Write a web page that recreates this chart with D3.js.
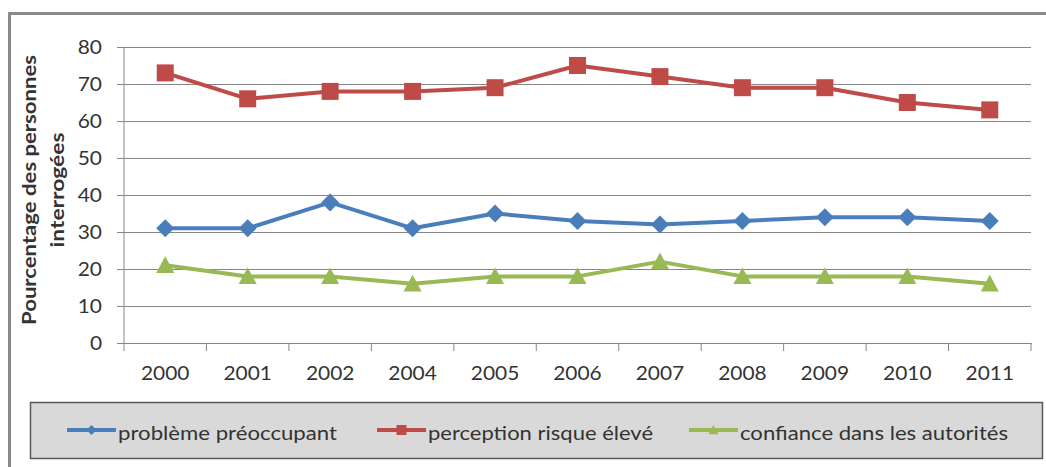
<!DOCTYPE html>
<html>
<head>
<meta charset="utf-8">
<script src="https://cdn.jsdelivr.net/npm/d3@7/dist/d3.min.js"></script>
<style>
  html, body { margin: 0; padding: 0; background: #fff; }
  svg { display: block; }
  text { font-family: Lato, "Open Sans", sans-serif; fill: #333; }
</style>
</head>
<body>
<svg id="chart" width="1046" height="467"></svg>
<script>
const years = ["2000","2001","2002","2004","2005","2006","2007","2008","2009","2010","2011"];
const probleme = [31, 31, 38, 31, 35, 33, 32, 33, 34, 34, 33];
const perception = [73, 66, 68, 68, 69, 75, 72, 69, 69, 65, 63];
const confiance = [21, 18, 18, 16, 18, 18, 22, 18, 18, 18, 16];
const seriesNames = ["problème préoccupant", "perception risque élevé", "confiance dans les autorités"];
const yTicks = [0, 10, 20, 30, 40, 50, 60, 70, 80];
const yTitle = ["Pourcentage des personnes", "interrogées"];

(function () {
const series = [
  { name: seriesNames[0], values: probleme, color: "#4A7EBB", marker: "diamond" },
  { name: seriesNames[1], values: perception, color: "#BE4B48", marker: "square" },
  { name: seriesNames[2], values: confiance, color: "#98B954", marker: "triangle" }
];

const svg = d3.select("#chart");
const pL = 124, pR = 1031, pT = 47, pB = 343;

const x = d3.scaleBand().domain(years).range([pL, pR]).padding(0);
const y = d3.scaleLinear().domain([0, 80]).range([pB, pT]);

// outer frame
svg.append("rect").attr("x", 9.5).attr("y", 13.5).attr("width", 1100).attr("height", 520)
  .attr("fill", "#fff").attr("stroke", "#8a8a8a").attr("stroke-width", 3);

// y axis with gridlines
const gy = svg.append("g").attr("transform", `translate(${pL},0)`)
  .call(d3.axisLeft(y).tickValues(yTicks).tickSize(7).tickPadding(15));
gy.select(".domain").remove();
gy.selectAll(".tick line").attr("stroke", "#868686").attr("x2", -7);
gy.selectAll(".tick").append("line").attr("x1", 0).attr("x2", pR - pL)
  .attr("stroke", "#868686").attr("stroke-width", 1);
gy.selectAll(".tick text").attr("font-size", 19).attr("fill", "#333");
svg.append("line").attr("x1", pL).attr("x2", pL).attr("y1", pT).attr("y2", pB)
  .attr("stroke", "#868686");

// x axis
const gx = svg.append("g").attr("transform", `translate(0,${pB})`)
  .call(d3.axisBottom(x).tickSize(0).tickPadding(24));
gx.select(".domain").attr("stroke", "#868686");
gx.selectAll(".tick text").attr("font-size", 19).attr("fill", "#333");
const bounds = years.map(d => x(d)).concat([x(years[years.length - 1]) + x.bandwidth()]);
gx.selectAll(".bt").data(bounds).enter().append("line")
  .attr("x1", d => d).attr("x2", d => d).attr("y1", 0).attr("y2", 8)
  .attr("stroke", "#868686");

// stretch tick label widths slightly
svg.selectAll(".tick text").each(function () {
  const l = this.getComputedTextLength();
  d3.select(this).attr("textLength", l * 1.1).attr("lengthAdjust", "spacingAndGlyphs");
});

// y title
const tg = svg.append("g").attr("transform", "translate(0,190) rotate(-90)");
tg.append("text").attr("x", 0).attr("y", 36).attr("text-anchor", "middle")
  .attr("font-size", 19.5).attr("font-weight", "bold").attr("fill", "#111")
  .attr("textLength", 270).attr("lengthAdjust", "spacingAndGlyphs").text(yTitle[0]);
tg.append("text").attr("x", 0).attr("y", 64).attr("text-anchor", "middle")
  .attr("font-size", 19.5).attr("font-weight", "bold").attr("fill", "#111")
  .attr("textLength", 115).attr("lengthAdjust", "spacingAndGlyphs").text(yTitle[1]);

function markerPath(type, s) {
  if (type === "diamond") return `M0,${-s}L${s},0L0,${s}L${-s},0Z`;
  if (type === "square") return `M${-s},${-s}H${s}V${s}H${-s}Z`;
  return `M0,${-s}L${s},${s * 0.85}L${-s},${s * 0.85}Z`;
}
const markerSize = { diamond: 9, square: 8.5, triangle: 9 };

const line = d3.line().x((d, i) => x(years[i]) + x.bandwidth() / 2).y(d => y(d));
series.forEach(s => {
  svg.append("path").datum(s.values).attr("d", line).attr("fill", "none")
    .attr("stroke", s.color).attr("stroke-width", 4).attr("stroke-linejoin", "round");
  svg.selectAll(null).data(s.values).enter().append("path")
    .attr("transform", (d, i) => `translate(${x(years[i]) + x.bandwidth() / 2},${y(d)})`)
    .attr("d", markerPath(s.marker, markerSize[s.marker])).attr("fill", s.color);
});

// legend
svg.append("rect").attr("x", 30.5).attr("y", 402.5).attr("width", 1012).attr("height", 56)
  .attr("fill", "#d9d9d9").attr("stroke", "#595959").attr("stroke-width", 1.5);
const legendX = [67, 377, 689];
const legendW = [219, 225, 268];
series.forEach((s, i) => {
  const g = svg.append("g").attr("transform", `translate(${legendX[i]},430)`);
  g.append("line").attr("x1", 0).attr("x2", 49).attr("stroke", s.color).attr("stroke-width", 4);
  g.append("path").attr("transform", "translate(24.5,0)")
    .attr("d", markerPath(s.marker, 5)).attr("fill", s.color);
  g.append("text").attr("x", 51).attr("y", 9.5).attr("font-size", 19.5)
    .attr("fill", "#262626").attr("textLength", legendW[i]).attr("lengthAdjust", "spacingAndGlyphs")
    .text(s.name);
});
})();
</script>
</body>
</html>
